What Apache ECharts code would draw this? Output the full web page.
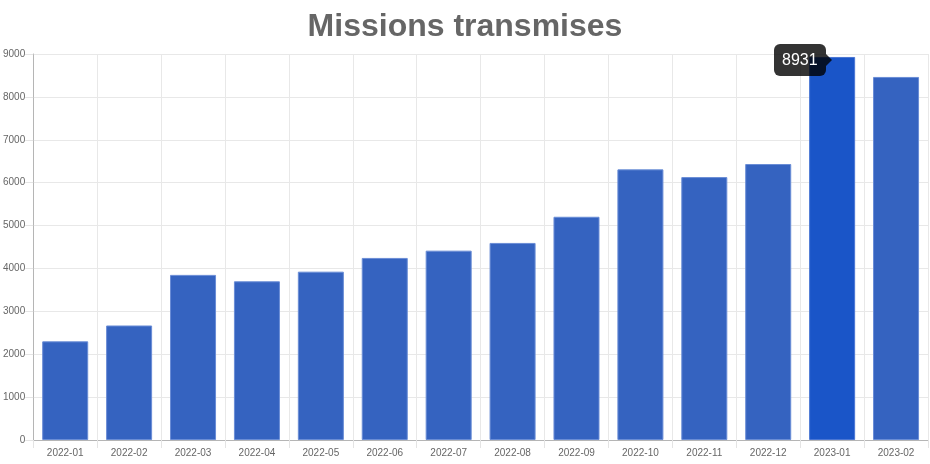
<!DOCTYPE html>
<html>
<head>
<meta charset="utf-8">
<script src="https://cdn.jsdelivr.net/npm/echarts@6/dist/echarts.min.js"></script>
<style>
html,body{margin:0;padding:0;background:#fff;}
#chart{width:930px;height:464px;}
</style>
</head>
<body>
<div id="chart"></div>
<script>
var titleText = 'Missions transmises';
var categories = ['2022-01','2022-02','2022-03','2022-04','2022-05','2022-06','2022-07','2022-08','2022-09','2022-10','2022-11','2022-12','2023-01','2023-02'];
var missions = [2300, 2670, 3850, 3700, 3925, 4245, 4415, 4595, 5205, 6310, 6130, 6435, 8931, 8465];
var yTicks = {min: 0, max: 9000, interval: 1000};
var highlightedIndex = 12;

var FONT = "'Liberation Sans', Arial, Helvetica, sans-serif";
var chart = echarts.init(document.getElementById('chart'), null, {renderer: 'canvas'});

chart.setOption({
  animation: false,
  title: {
    text: titleText,
    left: 'center',
    top: 6,
    textStyle: {fontFamily: FONT, fontSize: 32, fontWeight: 'bold', color: '#666666'}
  },
  grid: {left: 33, right: 2, top: 54, bottom: 24, containLabel: false},
  tooltip: {
    trigger: 'item',
    triggerOn: 'none',
    alwaysShowContent: true,
    backgroundColor: 'rgba(0,0,0,0.8)',
    borderWidth: 0,
    padding: [6, 8],
    extraCssText: 'box-shadow:none;border-radius:6px;',
    textStyle: {fontFamily: FONT, fontSize: 16, color: '#ffffff', lineHeight: 20},
    position: function (point, params, dom, rect, size) {
      return [rect.x - size.contentSize[0] + 17, rect.y - 13];
    },
    formatter: function (p) {
      return '<div style="position:relative;line-height:20px;">' + p.value +
        '<div style="position:absolute;right:-14px;top:50%;margin-top:-6px;width:0;height:0;border-style:solid;border-width:6px 0 6px 6px;border-color:transparent transparent transparent rgba(0,0,0,0.8);"></div></div>';
    }
  },
  xAxis: {
    type: 'category',
    data: categories,
    boundaryGap: true,
    axisLine: {show: true, lineStyle: {color: '#b5b5b5', width: 1}},
    axisTick: {show: true, length: 8, alignWithLabel: false, lineStyle: {color: '#e4e4e4'}},
    axisLabel: {fontFamily: FONT, fontSize: 10, color: '#666666', margin: 8},
    splitLine: {show: true, lineStyle: {color: '#e8e8e8', width: 1}}
  },
  yAxis: {
    type: 'value',
    min: yTicks.min,
    max: yTicks.max,
    interval: yTicks.interval,
    axisLine: {show: true, lineStyle: {color: '#b5b5b5', width: 1}},
    axisTick: {show: true, length: 8, lineStyle: {color: '#e4e4e4'}},
    axisLabel: {fontFamily: FONT, fontSize: 10, color: '#666666', margin: 8,
      formatter: function (v) { return String(v); }},
    splitLine: {show: true, lineStyle: {color: '#e8e8e8', width: 1}}
  },
  series: [{
    type: 'bar',
    data: missions,
    barCategoryGap: '28%',
    itemStyle: {color: '#3563c0', borderColor: '#6a8dd6', borderWidth: 1},
    emphasis: {itemStyle: {color: '#1a55c8', borderColor: '#4a76d4', borderWidth: 1}}
  }]
});

chart.dispatchAction({type: 'highlight', seriesIndex: 0, dataIndex: highlightedIndex});
chart.dispatchAction({type: 'showTip', seriesIndex: 0, dataIndex: highlightedIndex});
</script>
</body>
</html>
